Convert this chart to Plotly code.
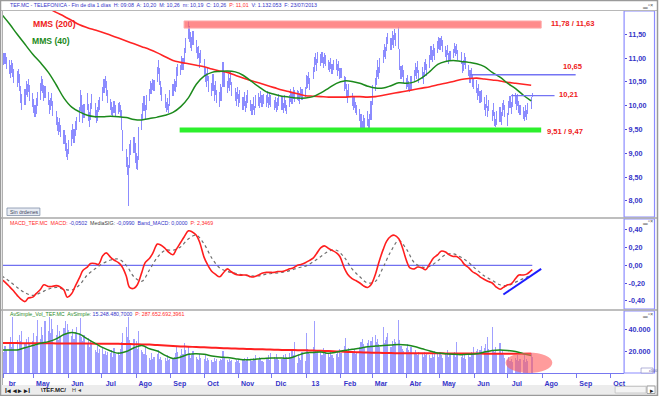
import pandas as pd
import plotly.graph_objects as go

W, H = 660, 396

# ---------------- DATA ----------------
# Daily highs / lows of TEF.MC, one row per week (Mon..Fri), from Mon 2 Apr 2012 to Tue 23 Jul 2013
high = [
 11.25,11.20,11.10,11.10,11.02, 10.95,10.86,10.95,10.90,10.78, 10.72,10.78,10.66,10.42,10.24,
 10.36,10.52,10.46,10.56,10.44, 10.26,10.14,10.02,10.16,10.28, 10.48,10.62,10.56,10.44,10.42,
 10.28,10.12,10.16,10.27,10.10, 9.88,9.76,9.66,9.74,9.60, 9.49,9.38,9.22,9.10,9.28,
 9.50,9.62,9.52,9.68,9.76, 9.98,10.33,10.22,10.02,10.04, 10.27,10.04,9.86,10.06,10.24,
 10.05,9.92,9.98,10.12,10.18, 10.40,10.56,10.62,10.52,10.34, 10.14,10.08,9.98,10.10,10.02,
 10.06,10.08,10.02,9.90,9.50, 9.10,8.92,8.75,9.20,9.28, 9.35,9.22,9.00,8.95,9.55,
 9.82,10.05,10.20,10.02,10.22, 10.36,10.52,10.47,10.56,10.55, 10.82,10.96,10.80,10.52,10.40,
 10.25,10.08,10.16,10.04,10.33, 10.46,10.56,10.52,10.82,10.88, 10.86,11.05,11.00,11.22,11.42,
 11.78,11.68,11.55,11.44,11.56, 11.38,11.24,11.26,11.10,11.16, 10.98,10.80,10.68,10.80,10.62,
 10.48,10.66,10.44,10.52,10.34, 10.28,10.46,10.40,10.92,10.70, 10.52,10.66,10.58,10.72,10.50,
 10.38,10.28,10.40,10.24,10.32, 10.18,10.28,10.10,10.22,10.33, 10.12,10.04,10.18,10.00,10.22,
 10.27,10.18,10.30,10.22,10.25, 10.22,10.30,10.18,10.26,10.22, 10.12,10.18,10.08,10.16,10.24,
 10.20,10.06,10.22,10.12,10.02, 10.22,10.36,10.28,10.40,10.32, 10.34,10.30,10.26,10.40,10.36,
 10.40,10.64,10.62,10.70,10.58, 10.82,11.02,11.10,10.98,11.12, 11.08,11.12,11.02,11.10,11.06,
 10.96,10.92,11.00,10.88,10.96, 10.98,10.88,10.94,10.80,10.80, 10.62,10.60,10.45,10.34,10.46,
 10.26,10.18,10.20,10.08,10.02, 9.94,9.82,9.68,9.80,9.74, 9.88,9.72,9.82,10.10,10.44,
 10.58,10.76,10.96,10.82,11.00, 11.16,11.30,11.24,11.45,11.53, 11.42,11.56,11.48,11.62,11.52,
 11.65,11.20,10.84,10.86,10.74, 10.58,10.64,10.52,10.46,10.62, 10.76,10.90,10.82,10.94,10.74,
 10.82,10.70,10.92,10.98,10.88, 11.06,11.26,11.18,11.30,11.22, 11.36,11.44,11.42,11.46,11.38,
 11.26,11.18,11.28,11.10,11.14, 11.20,11.32,11.26,11.30,11.16, 11.12,10.92,10.96,11.10,11.02,
 10.86,10.76,10.80,10.66,10.58, 10.54,10.38,10.46,10.30,10.32, 10.18,10.04,10.22,10.00,10.12,
 9.92,10.06,9.86,9.72,9.88, 9.98,9.86,10.06,10.12,10.02, 9.84,10.10,10.20,10.08,10.24,
 10.27,10.20,10.24,10.10,10.02, 9.98,9.88,10.02,9.92,10.06, 10.18,10.26,
]
low = [
 11.00,10.92,10.85,10.88,10.78, 10.66,10.58,10.68,10.60,10.48, 10.40,10.48,10.30,10.05,9.90,
 10.02,10.22,10.18,10.28,10.10, 9.98,9.84,9.76,9.82,10.00, 10.12,10.30,10.26,10.10,10.16,
 10.02,9.82,9.90,10.00,9.78, 9.60,9.46,9.38,9.44,9.34, 9.20,9.04,8.92,8.86,8.98,
 9.16,9.30,9.22,9.36,9.48, 9.66,9.88,9.86,9.64,9.74, 9.90,9.68,9.56,9.70,9.94,
 9.74,9.64,9.68,9.86,9.90, 10.10,10.26,10.38,10.20,10.06, 9.90,9.80,9.76,9.84,9.78,
 9.82,9.86,9.76,9.50,9.04, 8.72,8.55,7.90,8.70,8.96, 9.00,8.80,8.66,8.65,8.85,
 9.50,9.70,9.88,9.72,9.92, 10.10,10.24,10.24,10.34,10.30, 10.50,10.66,10.44,10.22,10.10,
 9.96,9.86,9.90,9.84,10.00, 10.20,10.30,10.28,10.40,10.62, 10.64,10.74,10.74,10.88,11.10,
 11.40,11.34,11.22,11.14,11.28, 11.10,10.98,11.00,10.80,10.90, 10.62,10.50,10.40,10.52,10.28,
 10.20,10.30,10.10,10.22,10.05, 9.98,10.10,10.10,10.40,10.40, 10.26,10.38,10.30,10.44,10.20,
 10.10,10.00,10.14,9.98,10.06, 9.92,10.00,9.86,9.96,10.06, 9.88,9.80,9.92,9.80,9.96,
 10.00,9.96,10.06,9.98,10.04, 9.98,10.06,9.96,10.02,9.98, 9.90,9.96,9.86,9.92,10.00,
 9.92,9.84,9.96,9.88,9.82, 9.98,10.08,10.04,10.14,10.08, 10.12,10.10,10.04,10.18,10.12,
 10.18,10.36,10.38,10.46,10.34, 10.56,10.70,10.86,10.72,10.90, 10.84,10.90,10.80,10.88,10.84,
 10.74,10.70,10.78,10.66,10.74, 10.76,10.62,10.72,10.56,10.58, 10.30,10.36,10.16,10.06,10.18,
 10.00,9.92,9.96,9.84,9.80, 9.68,9.52,9.47,9.52,9.48, 9.58,9.47,9.52,9.70,10.02,
 10.30,10.44,10.60,10.56,10.68, 10.90,11.02,10.98,11.14,11.30, 11.17,11.28,11.22,11.38,11.26,
 11.20,10.74,10.56,10.60,10.47, 10.36,10.40,10.30,10.28,10.34, 10.50,10.62,10.56,10.68,10.47,
 10.56,10.46,10.60,10.74,10.62, 10.80,10.96,10.92,11.04,10.96, 11.10,11.20,11.16,11.26,11.12,
 11.02,10.92,11.06,10.88,10.94, 11.00,11.10,11.04,11.08,10.96, 10.88,10.68,10.72,10.86,10.78,
 10.62,10.48,10.56,10.40,10.36, 10.26,10.12,10.20,10.05,10.08, 9.92,9.78,9.96,9.76,9.88,
 9.68,9.78,9.58,9.55,9.60, 9.66,9.60,9.78,9.90,9.76, 9.57,9.80,9.96,9.82,9.98,
 10.04,9.92,10.00,9.84,9.80, 9.72,9.68,9.76,9.70,9.82, 9.94,10.19,
]
# Daily volume (thousands of shares)
volume = [
 22,28,19,25,21, 26,33,24,51,27, 30,22,35,29,38, 27,31,24,33,26, 29,36,25,34,48,
 31,42,35,28,47, 38,51,36,49,40, 35,44,30,38,33, 41,47,36,45,39, 34,40,31,37,42,
 36,50,33,29,35, 27,32,24,30,26, 21,19,25,18,22, 24,17,20,16,19, 18,21,15,23,17,
 19,16,22,28,36, 42,33,51,30,27, 31,24,29,22,38, 21,19,17,24,16, 14,12,18,13,15,
 17,21,13,15,12, 14,11,16,12,13, 13,15,18,24,19, 16,22,17,27,21, 25,18,14,16,20,
 15,13,12,17,14, 13,16,11,14,12, 12,10,14,11,13, 11,13,12,20,15, 12,10,13,11,12,
 10,12,11,13,9, 12,14,11,13,15, 13,11,14,12,16, 12,15,13,11,10, 14,13,16,12,18,
 15,13,17,14,12, 13,16,14,17,15, 18,15,21,16,28, 9,17,14,12,19, 11,36,22,19,17,
 24,47,21,18,20, 19,16,23,17,21, 18,15,20,16,14, 17,19,15,22,18, 25,32,21,19,23,
 20,18,22,17,19, 24,28,31,26,23, 27,30,25,29,33, 35,28,31,26,24, 42,27,30,33,36,
 24,29,26,31,28, 48,30,25,22,20, 23,26,21,19,24, 18,21,17,16,19, 17,15,19,16,18,
 16,14,18,15,20, 17,15,19,16,14, 18,16,21,15,17, 16,19,15,28,17, 15,18,14,16,13,
 17,15,19,18,24, 20,22,18,21,25, 23,26,20,33,22, 42,21,19,24,18, 27,17,20,16,14,
 12,15,11,13,10, 14,12,16,11,13, 12,17,10,13,11, 18,15,
]
# Weekly readings (one per Monday) of the moving averages
mms200 = [12.55,12.47,12.39,12.30,12.22,12.13,12.05,11.96,11.88,11.79,11.70,11.64,11.59,11.54,11.48,
          11.42,11.36,11.30,11.24,11.18,11.11,11.03,10.95,10.91,10.88,10.85,10.82,10.77,10.73,10.70,
          10.64,10.58,10.53,10.48,10.43,10.38,10.33,10.29,10.25,10.21,10.20,10.19,10.18,10.18,10.18,
          10.19,10.19,10.18,10.19,10.22,10.25,10.28,10.31,10.34,10.37,10.40,10.44,10.47,10.51,10.55,
          10.57,10.58,10.56,10.54,10.52,10.49,10.47,10.45,10.43]
mms40 = [11.92,11.72,11.50,11.29,11.08,10.90,10.70,10.44,10.16,9.97,9.87,9.80,9.77,9.77,9.78,
         9.77,9.75,9.71,9.70,9.73,9.76,9.80,9.86,9.98,10.17,10.45,10.62,10.70,10.72,10.73,
         10.71,10.64,10.52,10.40,10.29,10.24,10.20,10.18,10.16,10.16,10.19,10.27,10.37,10.47,10.52,
         10.51,10.47,10.41,10.37,10.37,10.42,10.48,10.47,10.50,10.59,10.72,10.87,10.93,10.95,10.93,
         10.91,10.88,10.82,10.70,10.60,10.47,10.36,10.22,10.10]
# MACD: two readings per week (Mon, Thu), last two are Mon 22 and Tue 23 Jul 2013
macd = [-0.16,-0.19, -0.24,-0.28, -0.34,-0.38, -0.41,-0.37, -0.36,-0.32, -0.27,-0.22, -0.24,-0.24,
        -0.23,-0.24, -0.28,-0.36, -0.32,-0.24, -0.14,-0.06, -0.02,0.02, 0.02,0.01, 0.11,0.14,
        0.09,0.06, 0.03,-0.01, -0.12,-0.25, -0.26,-0.22, -0.08,0.03, 0.08,0.14, 0.24,0.23,
        0.19,0.15, 0.12,0.18, 0.26,0.32, 0.39,0.38, 0.34,0.26, 0.09,0.01, -0.07,-0.10,
        -0.13,-0.09, -0.04,-0.07, -0.10,-0.11, -0.11,-0.11, -0.13,-0.13, -0.11,-0.09, -0.08,-0.08,
        -0.08,-0.07, -0.07,-0.06, -0.04,-0.03, 0.00,0.01, 0.03,0.05, 0.08,0.13, 0.20,0.22,
        0.19,0.17, 0.14,0.10, -0.03,-0.10, -0.15,-0.17, -0.20,-0.23, -0.25,-0.22, -0.10,0.03,
        0.18,0.27, 0.33,0.34, 0.30,0.21, 0.05,-0.03, -0.04,-0.02, -0.03,-0.05, 0.02,0.08,
        0.12,0.16, 0.15,0.12, 0.10,0.10, 0.06,0.01, -0.03,-0.07, -0.10,-0.13, -0.16,-0.18,
        -0.20,-0.24, -0.27,-0.25, -0.22,-0.21, -0.15,-0.11, -0.11,-0.10, -0.06,-0.05]
signal = [-0.12,-0.18,-0.25,-0.31,-0.34,-0.31,-0.27,-0.25,-0.27,-0.28,-0.22,-0.11,-0.04,0.02,0.06,
          0.07,0.00,-0.13,-0.18,-0.05,0.09,0.17,0.17,0.21,0.30,0.34,0.24,0.08,-0.03,-0.07,
          -0.09,-0.11,-0.12,-0.12,-0.10,-0.09,-0.08,-0.06,-0.03,-0.01,0.04,0.10,0.16,0.17,0.09,
          -0.04,-0.13,-0.20,-0.18,-0.02,0.16,0.28,0.18,0.03,-0.02,-0.01,0.05,0.12,0.13,0.09,
          0.03,-0.05,-0.12,-0.17,-0.22,-0.23,-0.19,-0.15,-0.11]
vol_ma_short = [21,21,21,23,25,27,28.5,31,35,36.8,35.3,31,27,23,20,18,19.5,23,25,22,20,16,13.2,14.5,17,
                17.4,17,15.5,14.5,14,13,12,12.2,12.8,13.5,13.6,13.6,13.6,16,18.2,18.6,19,18,19,20.5,
                21.5,22.5,23.8,24.5,25,25.5,26,25.5,24,22,20,18.2,17.5,17,16.7,17,17.5,19,20.5,21,
                20.5,19.5,17.5,15.8]
vol_ma_long = [27.3,27.2,27.2,27.1,27.1,27.0,27.0,26.9,26.9,26.8,26.8,26.8,26.7,26.7,26.6,26.5,26.4,26.2,
               26.0,25.8,25.4,25.0,24.6,24.2,23.9,23.6,23.3,23.0,22.7,22.4,22.2,22.0,21.8,21.6,21.4,
               21.2,21.0,20.9,20.7,20.6,20.4,20.2,19.9,19.6,19.3,19.0,18.8,18.6,18.4,18.2,18.1,18.0,
               18.0,18.0,17.9,17.9,17.9,17.8,17.8,17.8,17.7,17.7,17.6,17.6,17.5,17.5,17.4,17.4,17.4]

# Drawn levels / objects on the chart
resist_band = [11.63, 11.78]
resist_span = ["2012-09-13", "2013-07-31"]
support_band = [9.47, 9.51]
support_span = ["2012-09-09", "2013-07-31"]
level_1065 = 10.65
level_1065_span = ["2013-05-28", "2013-08-31"]
level_1021 = 10.21
level_1021_span = ["2013-07-04", "2013-08-12"]
macd_trend = [-0.33, -0.04]
macd_trend_span = ["2013-06-27", "2013-07-31"]
vol_ellipse_span = ["2013-06-29", "2013-08-10"]
vol_ellipse_vals = [0, 18.6]

month_ticks = ["2012-04-03 12:00", "2012-05-01", "2012-06-01", "2012-07-01", "2012-08-01", "2012-09-01",
               "2012-10-01", "2012-11-01", "2012-12-01", "2013-01-01", "2013-02-01", "2013-03-01",
               "2013-04-01", "2013-05-01", "2013-06-01", "2013-07-01", "2013-08-01", "2013-09-01",
               "2013-10-01"]
month_labels = ["br", "May", "Jun", "Jul", "Ago", "Sep", "Oct", "Nov", "Dic", "13", "Feb", "Mar",
                "Abr", "May", "Jun", "Jul", "Ago", "Sep", "Oct"]
price_ticks = [8.0, 8.5, 9.0, 9.5, 10.0, 10.5, 11.0, 11.5]
price_labels = ["8,00", "8,50", "9,00", "9,50", "10,00", "10,50", "11,00", "11,50"]
macd_ticks = [0.4, 0.2, 0.0, -0.2, -0.4]
macd_labels = ["0,40", "0,20", "0,00", "-0,20", "-0,40"]
vol_ticks = [20, 40]
vol_labels = ["20.000", "40.000"]

# ---------------- BUILD ----------------
dates = pd.bdate_range("2012-04-02", periods=len(high))
week_dates = dates[::5]
macd_dates = []
for i in range(0, len(dates) - 2, 5):
    macd_dates += [dates[i], dates[i + 3]]
macd_dates += [dates[-2], dates[-1]]

XR = ["2012-04-03 05:00", "2013-10-13 13:00"]
XD = [3 / W, 626 / W]
def py(y):  # pixel row -> paper fraction
    return 1 - y / H

BLUE_TXT = "#3434c8"
FONT = "Liberation Sans"
DAY = 86400000

fig = go.Figure()

# price range bars
fig.add_trace(go.Bar(x=dates, base=low, y=[h - l for h, l in zip(high, low)],
                     width=1.0 * DAY, marker=dict(color="rgb(140,140,255)", line=dict(width=0)),
                     xaxis="x", yaxis="y"))
fig.add_trace(go.Scatter(x=week_dates, y=mms200, mode="lines", line=dict(color="#ff2424", width=1.6, shape="spline"),
                         xaxis="x", yaxis="y"))
fig.add_trace(go.Scatter(x=week_dates, y=mms40, mode="lines", line=dict(color="#1c8a1c", width=1.5, shape="spline"),
                         xaxis="x", yaxis="y"))
fig.add_trace(go.Scatter(x=support_span, y=[sum(support_band) / 2] * 2, mode="lines",
                         line=dict(color="#2cf02c", width=5), xaxis="x", yaxis="y"))
fig.add_trace(go.Scatter(x=level_1065_span, y=[level_1065] * 2, mode="lines",
                         line=dict(color="#7474f4", width=1.3), xaxis="x", yaxis="y"))
fig.add_trace(go.Scatter(x=level_1021_span, y=[level_1021] * 2, mode="lines",
                         line=dict(color="#7474f4", width=1.3), xaxis="x", yaxis="y"))

# MACD
fig.add_trace(go.Scatter(x=[dates[0], dates[-1]], y=[0, 0], mode="lines",
                         line=dict(color="#7070f0", width=1.2), xaxis="x2", yaxis="y2"))
fig.add_trace(go.Scatter(x=week_dates, y=signal, mode="lines",
                         line=dict(color="#707070", width=1.2, dash="dot", shape="spline"), xaxis="x2", yaxis="y2"))
fig.add_trace(go.Scatter(x=macd_dates, y=macd, mode="lines",
                         line=dict(color="#ff1e1e", width=1.6, shape="spline"), xaxis="x2", yaxis="y2"))
fig.add_trace(go.Scatter(x=macd_trend_span, y=macd_trend, mode="lines",
                         line=dict(color="#1e1eff", width=2), xaxis="x2", yaxis="y2"))

# Volume
fig.add_trace(go.Bar(x=dates, y=volume, width=1.0 * DAY,
                     marker=dict(color="rgb(160,160,255)", line=dict(width=0)), xaxis="x3", yaxis="y3"))
fig.add_trace(go.Scatter(x=week_dates, y=vol_ma_long, mode="lines",
                         line=dict(color="#ff2020", width=2, shape="spline"), xaxis="x3", yaxis="y3"))
fig.add_trace(go.Scatter(x=week_dates, y=vol_ma_short, mode="lines",
                         line=dict(color="#1c8a1c", width=1.5, shape="spline"), xaxis="x3", yaxis="y3"))

axis_common = dict(showgrid=False, zeroline=False, fixedrange=True)
tickfont = dict(family=FONT, size=7.2, color=BLUE_TXT, weight="bold")
fig.update_layout(
    width=W, height=H, margin=dict(l=0, r=0, t=0, b=0),
    paper_bgcolor="white", plot_bgcolor="white", showlegend=False, bargap=0,
    xaxis=dict(domain=XD, range=XR, type="date", showticklabels=False, ticks="", anchor="y", **axis_common),
    xaxis2=dict(domain=XD, range=XR, type="date", showticklabels=False, ticks="", anchor="y2", **axis_common),
    xaxis3=dict(domain=XD, range=XR, type="date", anchor="y3", tickvals=month_ticks, ticktext=month_labels,
                ticks="outside", ticklen=4, tickcolor="#7878f0", showline=True, linecolor="#7878f0",
                tickfont=dict(family=FONT, size=7, color=BLUE_TXT, weight="bold"), ticklabelshift=9,
                **axis_common),
    yaxis=dict(domain=[py(217), py(11)], range=[7.6618, 11.9895], side="right", anchor="x",
               tickvals=price_ticks, ticktext=price_labels, ticks="outside", ticklen=2, tickcolor="#5050e0",
               tickfont=tickfont, **axis_common),
    yaxis2=dict(domain=[py(309), py(219)], range=[-0.4938, 0.5232], side="right", anchor="x2",
                tickvals=macd_ticks, ticktext=macd_labels, ticks="outside", ticklen=2, tickcolor="#5050e0",
                tickfont=tickfont, **axis_common),
    yaxis3=dict(domain=[py(373), py(311)], range=[0, 56.36], side="right", anchor="x3",
                tickvals=vol_ticks, ticktext=vol_labels, ticks="outside", ticklen=2, tickcolor="#5050e0",
                tickfont=tickfont, **axis_common),
)

shapes = []
# resistance band
shapes.append(dict(type="rect", xref="x", yref="y", x0=resist_span[0], x1=resist_span[1],
                   y0=resist_band[0], y1=resist_band[1], fillcolor="rgba(255,100,100,0.75)",
                   line=dict(color="rgba(255,170,170,1)", width=1), layer="above"))
# volume ellipse
shapes.append(dict(type="circle", xref="x3", yref="y3", x0=vol_ellipse_span[0], x1=vol_ellipse_span[1],
                   y0=vol_ellipse_vals[0], y1=vol_ellipse_vals[1], fillcolor="rgba(255,95,95,0.62)",
                   line=dict(width=0), layer="above"))
# right axis boxes
for top, bot in [(11, 217), (219, 309), (311, 373)]:
    shapes.append(dict(type="rect", xref="paper", yref="paper", x0=626 / W, x1=656.5 / W,
                       y0=py(bot), y1=py(top), line=dict(color="#8c8cff", width=1.2)))
# panel separators / frame
for y in [218, 310]:
    shapes.append(dict(type="line", xref="paper", yref="paper", x0=0, x1=1, y0=py(y), y1=py(y),
                       line=dict(color="#a8a8a8", width=1.5)))
shapes.append(dict(type="line", xref="paper", yref="paper", x0=0, x1=1, y0=py(10.5), y1=py(10.5),
                   line=dict(color="#b8b8b8", width=1)))
shapes.append(dict(type="rect", xref="paper", yref="paper", x0=0, x1=1, y0=py(396), y1=py(385),
                   fillcolor="#ececec", line=dict(width=0), layer="below"))
shapes.append(dict(type="rect", xref="paper", yref="paper", x0=0.5 / W, x1=659.5 / W, y0=py(395.5), y1=py(0.5),
                   line=dict(color="#9a9a9a", width=1.5)))
shapes.append(dict(type="line", xref="paper", yref="paper", x0=2.5 / W, x1=2.5 / W, y0=py(385), y1=py(11),
                   line=dict(color="#b0b0b0", width=1)))
# "Sin ordenes" box
shapes.append(dict(type="rect", xref="paper", yref="paper", x0=7 / W, x1=40 / W, y0=py(215.5), y1=py(208),
                   fillcolor="#e8ecf4", line=dict(color="#8090a8", width=0.8)))
# bottom scrollbar
shapes.append(dict(type="rect", xref="paper", yref="paper", x0=617 / W, x1=648 / W, y0=py(393), y1=py(386.5),
                   fillcolor="#f4f4f4", line=dict(color="#c0c0c0", width=0.8)))
shapes.append(dict(type="rect", xref="paper", yref="paper", x0=649 / W, x1=657 / W, y0=py(393.5), y1=py(386),
                   fillcolor="#ffffff", line=dict(color="#909090", width=0.8)))
# tiny vol unit box
shapes.append(dict(type="rect", xref="paper", yref="paper", x0=643 / W, x1=655 / W, y0=py(373), y1=py(368),
                   fillcolor="#ffffff", line=dict(color="#8080c0", width=0.6)))
fig.update_layout(shapes=shapes)

ann = []
def txt(x, y, s, size=5.6, color=BLUE_TXT, bold=False, anchor="left"):
    ann.append(dict(xref="paper", yref="paper", x=x / W, y=py(y), text=s, showarrow=False,
                    xanchor=anchor, yanchor="middle", borderpad=0,
                    font=dict(family=FONT, size=size, color=color, weight="bold" if bold else "normal")))

txt(9, 5.5, "TEF.MC - TELEFONICA - Fin de día 1 días  H: 09:08  A: 10,20  M: 10,26  m: 10,19  C: 10,26  "
            "<span style='color:#ff3030'>P: 11,01</span>  V: 1.132.053  F: 23/07/2013", size=5.3)
txt(9, 222.5, "<span style='color:#ff2a2a'>MACD_TEF.MC  MACD:</span> -0,0502  "
              "<span style='color:#404040'>MediaSIG:</span> -0,0990  Band_MACD: 0,0000  "
              "<span style='color:#ff2a2a'>P: 2,3469</span>", size=5.3)
txt(9, 314, "<span style='color:#2a8a2a'>AvSimple_Vol_TEF.MC  AvSimple:</span> 15.248.480,7000  "
            "<span style='color:#ff2a2a'>P: 287.652.692,3961</span>", size=5.3)
txt(9, 211.8, "Sin órdenes", size=5.3, color="#404860")
txt(32, 23.5, "MMS (200)", size=8.6, color="#ee2020", bold=True)
txt(31, 40.5, "MMS (40)", size=8.6, color="#1c8a1c", bold=True)
txt(552, 23.5, "11,78 / 11,63", size=7.6, color="#ee2020", bold=True)
txt(564, 66.5, "10,65", size=7.6, color="#ee2020", bold=True)
txt(560, 94.5, "10,21", size=7.6, color="#ee2020", bold=True)
txt(548, 131.5, "9,51 / 9,47", size=7.6, color="#ee2020", bold=True)
for y in [5, 222, 314]:
    txt(656, y, "▁▫×", size=5.5, color="#505050", anchor="right")
txt(649.5, 370.5, "x1000", size=3, color="#5050a0")
txt(4, 390, "I◂ ◂ ▸ ▸I", size=6.5, color="#202020", bold=True)
txt(40, 390, "\\TEF.MC/", size=6, color="#202020", bold=True)
txt(71, 390, "H ◂", size=5.5, color="#404040")
txt(651, 390, "▸", size=6.5, color="#202020")
fig.update_layout(annotations=ann)

fig.write_html("out.html", config={"displayModeBar": False, "staticPlot": True},
               post_script="document.body.style.margin='0';document.body.style.overflow='hidden';")
